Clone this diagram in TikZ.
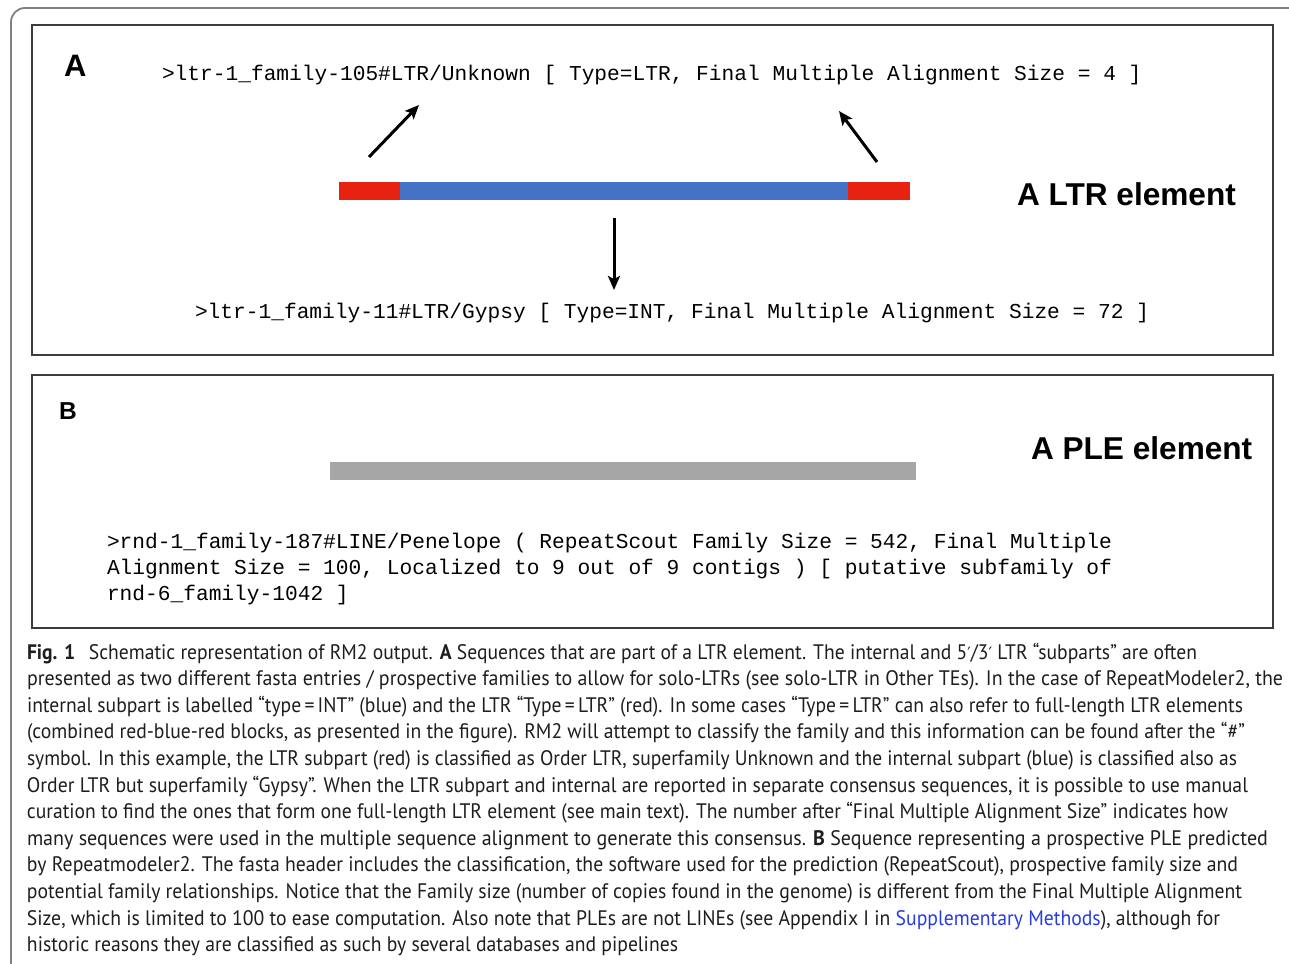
\documentclass[tikz,border=0pt]{standalone}
\usepackage{fontspec}
\usepackage{graphicx}
\usetikzlibrary{arrows.meta}
\setmainfont{PT Sans}
\setmonofont{Liberation Mono}
\newfontfamily\hfont{Liberation Sans}
\newfontfamily\dvfont{DejaVu Sans}
\definecolor{ltrred}{RGB}{232,34,16}
\definecolor{intblue}{RGB}{68,114,196}
\definecolor{plegray}{RGB}{166,166,166}
\definecolor{framegray}{RGB}{128,128,128}
\definecolor{boxgray}{RGB}{60,60,60}
\definecolor{linkblue}{RGB}{40,60,225}
\definecolor{captext}{RGB}{30,30,30}
\newcommand\capfont{\fontsize{21}{26}\selectfont}
\newcommand\monofont{\fontsize{21.2}{26}\selectfont\ttfamily}
\newcommand\pr{{\dvfont\fontsize{17}{20}\selectfont ′}}
\newcommand\fitline[2]{\resizebox{#1pt}{\height}{\capfont #2}}
\tikzset{
  txt/.style={inner sep=0pt, outer sep=0pt, anchor=base west},
  capstyle/.style={txt, text=captext},
  mono/.style={txt, font=\monofont},
  head/.style={txt, font=\hfont\bfseries\fontsize{31.6}{36}\selectfont},
  panelbox/.style={draw=boxgray, line width=1.8pt},
  bar/.style={inner sep=0pt, outer sep=0pt, draw=none},
  pointer/.style={line width=3pt, -{Stealth[length=14pt,width=12pt,inset=3pt]}},
}
\begin{document}
\begin{tikzpicture}[x=1pt,y=-1pt]
\useasboundingbox (0,0) rectangle (1289,963);
\fill[white] (0,0) rectangle (1289,963);
% outer rounded frame
\draw[framegray, line width=1.8pt, rounded corners=14pt] (11,1000) -- (11,8) -- (1300,8);
% panel boxes
\draw[panelbox] (32,25) rectangle (1273,355);
\draw[panelbox] (32,375) rectangle (1273,628);
% panel A
\node[txt, font=\hfont\bfseries\fontsize{31}{36}\selectfont] (labA) at (64,77) {A};
\node[mono] (hdr1) at (162,81) {>ltr-1\_family-105\#LTR/Unknown [ Type=LTR, Final Multiple Alignment Size = 4 ]};
\node[mono] (hdr2) at (195,318) {>ltr-1\_family-11\#LTR/Gypsy [ Type=INT, Final Multiple Alignment Size = 72 ]};
\node[bar, fill=ltrred, minimum width=61pt, minimum height=18pt] (ltr5) at (369.5,191) {};
\node[bar, fill=intblue, minimum width=448pt, minimum height=18pt] (int) at (624,191) {};
\node[bar, fill=ltrred, minimum width=62pt, minimum height=18pt] (ltr3) at (879,191) {};
\node[head] (ltrlab) at (1017,205) {A LTR element};
\coordinate (a1s) at (369,157);
\coordinate (a1e) at (419,105);
\coordinate (a2s) at (877,162);
\coordinate (a2e) at (839,111);
\coordinate (a3s) at (614,218);
\coordinate (a3e) at (614,290);
\draw[pointer] (a1s) -- (a1e);
\draw[pointer] (a2s) -- (a2e);
\draw[pointer] (a3s) -- (a3e);
% panel B
\node[txt, font=\hfont\bfseries\fontsize{24.5}{28}\selectfont] (labB) at (59,419) {B};
\node[bar, fill=plegray, minimum width=586pt, minimum height=18pt] (ple) at (623,471) {};
\node[head] (plelab) at (1031,459) {A PLE element};
\node[mono] (b1) at (107,548) {>rnd-1\_family-187\#LINE/Penelope ( RepeatScout Family Size = 542, Final Multiple};
\node[mono] (b2) at (107,574.5) {Alignment Size = 100, Localized to 9 out of 9 contigs ) [ putative subfamily of};
\node[mono] (b3) at (107,600) {rnd-6\_family-1042 ]};
% caption
\node[capstyle] (c1) at (27,659) {\fitline{1170}{\textbf{Fig. 1}\hspace{0.7em}Schematic representation of RM2 output. \textbf{A} Sequences that are part of a LTR element. The internal and 5\pr/3\pr{} LTR “subparts” are often}};
\node[capstyle] (c2) at (27,685.6) {\fitline{1256}{presented as two different fasta entries / prospective families to allow for solo-LTRs (see solo-LTR in Other TEs). In the case of RepeatModeler2, the}};
\node[capstyle] (c3) at (27,712.2) {\fitline{1216}{internal subpart is labelled “type\,=\,INT” (blue) and the LTR “Type\,=\,LTR” (red). In some cases “Type\,=\,LTR” can also refer to full-length LTR elements}};
\node[capstyle] (c4) at (27,738.8) {\fitline{1218}{(combined red-blue-red blocks, as presented in the figure). RM2 will attempt to classify the family and this information can be found after the “\#”}};
\node[capstyle] (c5) at (27,765.4) {\fitline{1210}{symbol. In this example, the LTR subpart (red) is classified as Order LTR, superfamily Unknown and the internal subpart (blue) is classified also as}};
\node[capstyle] (c6) at (27,792) {\fitline{1221}{Order LTR but superfamily “Gypsy”. When the LTR subpart and internal are reported in separate consensus sequences, it is possible to use manual}};
\node[capstyle] (c7) at (27,818.6) {\fitline{1201}{curation to find the ones that form one full-length LTR element (see main text). The number after “Final Multiple Alignment Size” indicates how}};
\node[capstyle] (c8) at (27,845.2) {\fitline{1241}{many sequences were used in the multiple sequence alignment to generate this consensus. \textbf{B} Sequence representing a prospective PLE predicted}};
\node[capstyle] (c9) at (27,871.8) {\fitline{1211}{by Repeatmodeler2. The fasta header includes the classification, the software used for the prediction (RepeatScout), prospective family size and}};
\node[capstyle] (c10) at (27,898.4) {\fitline{1215}{potential family relationships. Notice that the Family size (number of copies found in the genome) is different from the Final Multiple Alignment}};
\node[capstyle] (c11) at (27,925) {\fitline{1193}{Size, which is limited to 100 to ease computation. Also note that PLEs are not LINEs (see Appendix I in \textcolor{linkblue}{Supplementary Methods}), although for}};
\node[capstyle] (c12) at (27,951.6) {\fitline{651}{historic reasons they are classified as such by several databases and pipelines}};
\end{tikzpicture}
\end{document}
